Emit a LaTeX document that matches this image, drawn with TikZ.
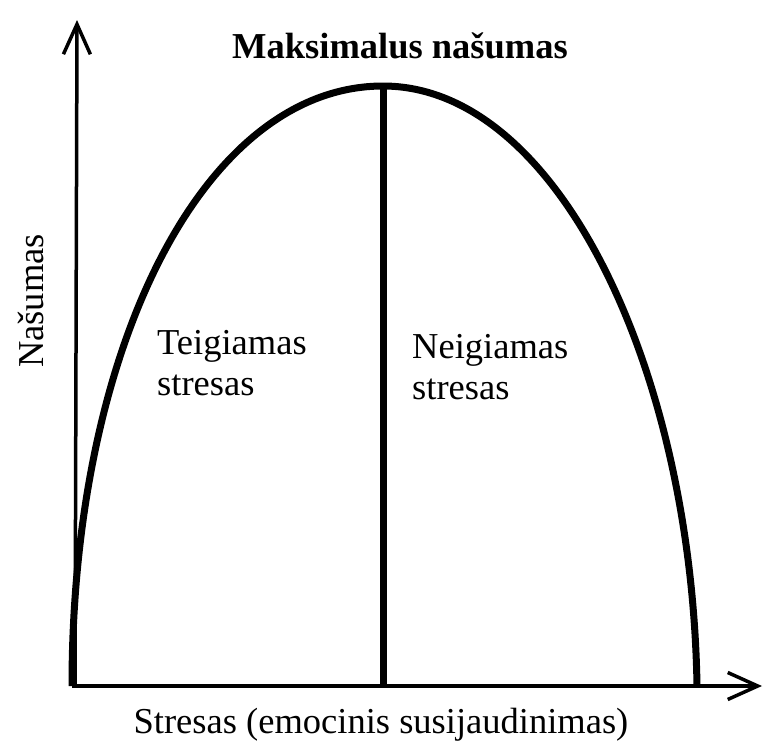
\documentclass[tikz,border=0pt]{standalone}
\usepackage{fontspec}
\setmainfont{Liberation Serif}
\usetikzlibrary{arrows.meta}
\begin{document}
\begin{tikzpicture}[x=1pt,y=-1pt,
  axis/.style={line width=3.5pt,-{Straight Barb[length=30pt,width=27pt,line width=3.5pt]}},
  thick curve/.style={line width=7pt,line cap=butt},
  lbl/.style={inner sep=0pt,font=\fontsize{36.5}{41}\selectfont},
  twoline/.style={lbl,align=left,anchor=base west}]
\useasboundingbox (0,0) rectangle (764,745);
\coordinate (O) at (75,686);
\coordinate (ytip) at (77,20);
\coordinate (xtip) at (762,686);
\coordinate (L) at (72,686);
\coordinate (P) at (383,86);
\coordinate (R) at (697,686);
\coordinate (B) at (383,686);
\draw[axis] (O) -- (ytip);
\draw[axis] (72,686) -- (xtip);
\draw[thick curve] (L) .. controls (72,345) and (205,86) .. (P)
  .. controls (558,86) and (692,370) .. (R);
\draw[thick curve] (P) -- (B);
\node[lbl,font=\fontsize{36.5}{41}\selectfont\bfseries,anchor=base] (title) at (400,58) {Maksimalus našumas};
\node[lbl,anchor=base] (xlabel) at (381,733) {Stresas (emocinis susijaudinimas)};
\node[lbl,anchor=base,rotate=90] (ylabel) at (43,301) {Našumas};
\node[twoline] (pos) at (157,395) {Teigiamas\\stresas};
\node[twoline] (neg) at (412,399) {Neigiamas\\stresas};
\end{tikzpicture}
\end{document}
